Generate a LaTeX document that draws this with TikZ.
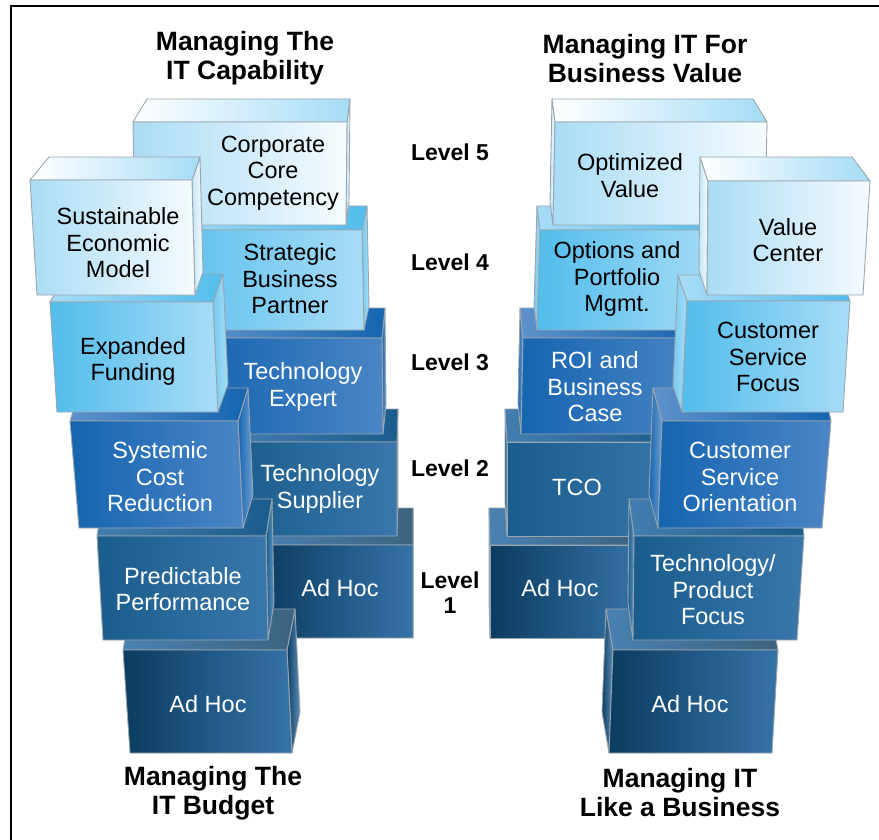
\documentclass[tikz,border=0pt]{standalone}
\usepackage{fontspec}
\setmainfont{Liberation Sans}
\usetikzlibrary{calc}

\definecolor{boxgray}{HTML}{9BA5AD}
\definecolor{paleL}{HTML}{A9DCF5}
\definecolor{paleR}{HTML}{F6FBFE}
\definecolor{paleT}{HTML}{A5DCF6}
\definecolor{skyL}{HTML}{52BDEC}
\definecolor{skyR}{HTML}{A8DCF6}
\definecolor{midL}{HTML}{1565B0}
\definecolor{midR}{HTML}{4B85C5}
\definecolor{steelL}{HTML}{1A5C8C}
\definecolor{steelR}{HTML}{3A77AB}
\definecolor{navyL}{HTML}{0B3C60}
\definecolor{navyR}{HTML}{3673A8}

\tikzset{
  boxline/.style={draw=boxgray, line width=0.9pt, line join=round},
  pale front/.style={left color=paleL, right color=paleR},
  pale top/.style={left color=white, right color=paleT},
  pale side/.style={left color=paleL!70, right color=paleR},
  sky front/.style={left color=skyL, right color=skyR},
  sky top/.style={left color=skyR, right color=skyL},
  sky side/.style={left color=skyL!80, right color=skyR},
  mid front/.style={left color=midL, right color=midR},
  mid top/.style={left color=midR!90, right color=midL},
  mid side/.style={left color=midL, right color=midR!80},
  steel front/.style={left color=steelL, right color=steelR},
  steel top/.style={left color=steelR!95, right color=steelL},
  steel side/.style={left color=steelL, right color=steelR!80},
  navy front/.style={left color=navyL, right color=navyR},
  navy top/.style={left color=navyR!90, right color=navyL!80},
  navy side/.style={left color=navyL, right color=navyR!80},
  boxtext/.style={font=\fontsize{23.5}{26.5}\selectfont, align=center},
  darktext/.style={boxtext, text=white},
  leveltext/.style={font=\bfseries\fontsize{23}{25}\selectfont, align=center},
  headtext/.style={font=\bfseries\fontsize{26.5}{29}\selectfont, align=center},
}

% block with its top and right-hand side showing
% #1 colour, #2-#5 front corners (tl,tr,br,bl), #6-#7 back top corners
\newcommand{\lblock}[7]{%
  \path[boxline,#1 side] #3 -- #7 -- ($#7+#4-#3$) -- #4 -- cycle;
  \path[boxline,#1 top] #2 -- #6 -- #7 -- #3 -- cycle;
  \path[boxline,#1 front] #2 -- #3 -- #4 -- #5 -- cycle;
}
% same, with the left-hand side showing
\newcommand{\rblock}[7]{%
  \path[boxline,#1 side] #2 -- #6 -- ($#6+#5-#2$) -- #5 -- cycle;
  \path[boxline,#1 top] #2 -- #6 -- #7 -- #3 -- cycle;
  \path[boxline,#1 front] #2 -- #3 -- #4 -- #5 -- cycle;
}

\begin{document}
\begin{tikzpicture}[x=1pt,y=-1pt]
  \useasboundingbox (0,0) rectangle (879,840);
  \draw[line width=2pt] (11,840) -- (11,6.5) -- (879,6.5);

  % left stack, back to front
  \lblock{navy}{(260,545)}{(413,545)}{(413,638)}{(262,638)}{(265,508)}{(413,508)}
  \lblock{navy}{(123,650)}{(287,650)}{(292,753)}{(130,753)}{(130,609)}{(295,609)}
  \lblock{steel}{(230,442)}{(397,442)}{(397,536)}{(232,536)}{(235,409)}{(398,409)}
  \lblock{steel}{(97,536)}{(266,536)}{(268,640)}{(103,640)}{(103,499)}{(272,499)}
  \lblock{mid}{(200,338)}{(382,338)}{(383,434)}{(205,434)}{(215,308)}{(385,308)}
  \lblock{mid}{(70,421)}{(238,421)}{(243,528)}{(79,528)}{(80,388)}{(248,388)}
  \lblock{sky}{(150,230)}{(362,230)}{(364,330)}{(155,330)}{(165,206)}{(367,206)}
  \lblock{sky}{(50,302)}{(213,302)}{(218,412)}{(57,412)}{(67,274)}{(223,274)}
  \lblock{pale}{(133,122)}{(347,122)}{(346,225)}{(135,225)}{(147,99)}{(350,99)}
  \lblock{pale}{(30,180)}{(192,180)}{(195,295)}{(37,295)}{(49,157)}{(200,157)}

  % right stack, back to front
  \rblock{navy}{(490,545)}{(640,545)}{(640,638)}{(490,638)}{(489,508)}{(640,508)}
  \rblock{navy}{(613,650)}{(778,650)}{(772,753)}{(609,753)}{(606,609)}{(770,609)}
  \rblock{steel}{(507,442)}{(680,442)}{(680,536)}{(507,536)}{(505,409)}{(678,409)}
  \rblock{steel}{(634,536)}{(804,536)}{(797,640)}{(633,640)}{(629,499)}{(800,499)}
  \rblock{mid}{(523,338)}{(700,338)}{(700,434)}{(521,434)}{(520,308)}{(697,308)}
  \rblock{mid}{(662,421)}{(831,421)}{(822,528)}{(658,528)}{(653,388)}{(824,388)}
  \rblock{sky}{(540,230)}{(720,230)}{(720,330)}{(537,330)}{(537,206)}{(717,206)}
  \rblock{sky}{(687,301)}{(850,301)}{(843,412)}{(682,412)}{(678,275)}{(840,275)}
  \rblock{pale}{(555,122)}{(767,122)}{(765,225)}{(553,225)}{(552,99)}{(753,99)}
  \rblock{pale}{(708,181)}{(870,181)}{(863,295)}{(707,295)}{(700,157)}{(852,157)}

  % block texts
  \node[boxtext] (core) at (273,173) {Corporate\\Core\\Competency};
  \node[boxtext] (sustain) at (118,243) {Sustainable\\Economic\\Model};
  \node[boxtext] (partner) at (290,279) {Strategic\\Business\\Partner};
  \node[boxtext] (funding) at (133,361.5) {Expanded\\Funding};
  \node[darktext] (expert) at (303,387) {Technology\\Expert};
  \node[darktext] (costred) at (160,477) {Systemic\\Cost\\Reduction};
  \node[darktext] (supplier) at (320,489) {Technology\\Supplier};
  \node[darktext] (predict) at (183,589) {Predictable\\Performance};
  \node[darktext] (adhocA) at (340,588) {Ad Hoc};
  \node[darktext] (adhocB) at (208,704) {Ad Hoc};

  \node[boxtext] (optval) at (630,175.5) {Optimized\\Value};
  \node[boxtext] (valcenter) at (788,240) {Value\\Center};
  \node[boxtext] (portfolio) at (617,279) {Options and\\Portfolio\\Mgmt.};
  \node[boxtext] (focus) at (768,357) {Customer\\Service\\Focus};
  \node[darktext] (roi) at (595,387) {ROI and\\Business\\Case};
  \node[darktext] (orient) at (740,477) {Customer\\Service\\Orientation};
  \node[darktext] (tco) at (577,487) {TCO};
  \node[darktext] (product) at (713,590) {Technology/\\Product\\Focus};
  \node[darktext] (adhocC) at (560,588) {Ad Hoc};
  \node[darktext] (adhocD) at (690,704) {Ad Hoc};

  % levels down the middle
  \node[leveltext] (lv5) at (450,152) {Level 5};
  \node[leveltext] (lv4) at (450,262) {Level 4};
  \node[leveltext] (lv3) at (450,362) {Level 3};
  \node[leveltext] (lv2) at (450,468) {Level 2};
  \node[leveltext] (lv1) at (450,593) {Level\\1};

  % stack titles
  \node[headtext] (capab) at (245,58.5) {Managing The\\IT Capability};
  \node[headtext] (bvalue) at (645,58.5) {Managing IT For\\Business Value};
  \node[headtext] (budget) at (213,793) {Managing The\\IT Budget};
  \node[headtext] (business) at (680,793) {Managing IT\\Like a Business};
\end{tikzpicture}
\end{document}
